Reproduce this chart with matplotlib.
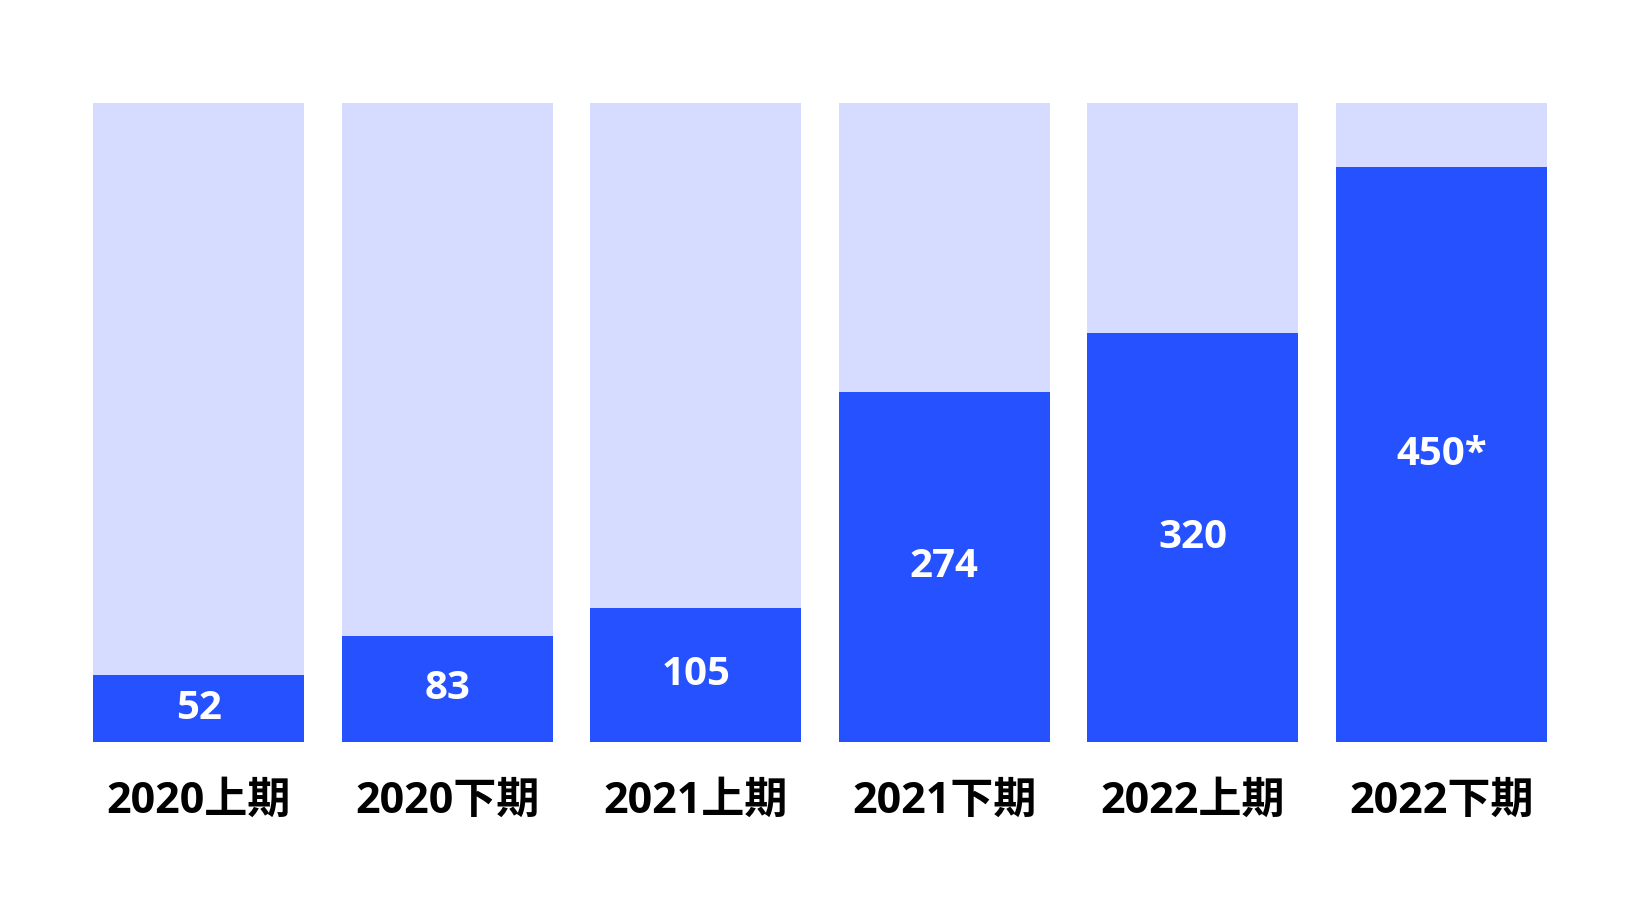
import matplotlib

matplotlib.use("Agg")
import matplotlib.pyplot as plt

plt.rcParams["font.family"] = ["Open Sans", "Noto Sans CJK JP", "DejaVu Sans"]

periods = ["2020上期", "2020下期", "2021上期", "2021下期", "2022上期", "2022下期"]
values = [52, 83, 105, 274, 320, 450]
value_labels = ["52", "83", "105", "274", "320", "450*"]
scale_max = 500

BLUE = "#2651ff"
LIGHT = "#d6dcff"


def main():
    fig = plt.figure(figsize=(16.4, 9.24), dpi=100)
    ax = fig.add_axes([0.0567, 0.1975, 0.8866, 0.6905])

    x = list(range(len(periods)))
    ax.bar(x, [scale_max] * len(x), width=0.85, color=LIGHT, linewidth=0)
    ax.bar(x, values, width=0.85, color=BLUE, linewidth=0)

    # value labels sit in the middle of each blue bar
    for xi, v, lab in zip(x, values, value_labels):
        ax.text(xi, v / 2, lab, ha="center", va="center", color="white",
                fontsize=29, fontweight="bold")

    for xi, name in zip(x, periods):
        ax.text(xi, -0.093, name, ha="center", va="center", color="black",
                fontsize=31, fontweight="bold",
                transform=ax.get_xaxis_transform())

    ax.set_xlim(-0.425, len(x) - 0.575)
    ax.set_ylim(0, scale_max)
    ax.axis("off")

    fig.savefig("out.png", dpi=100, facecolor="white")
    plt.close(fig)


if __name__ == "__main__":
    main()
